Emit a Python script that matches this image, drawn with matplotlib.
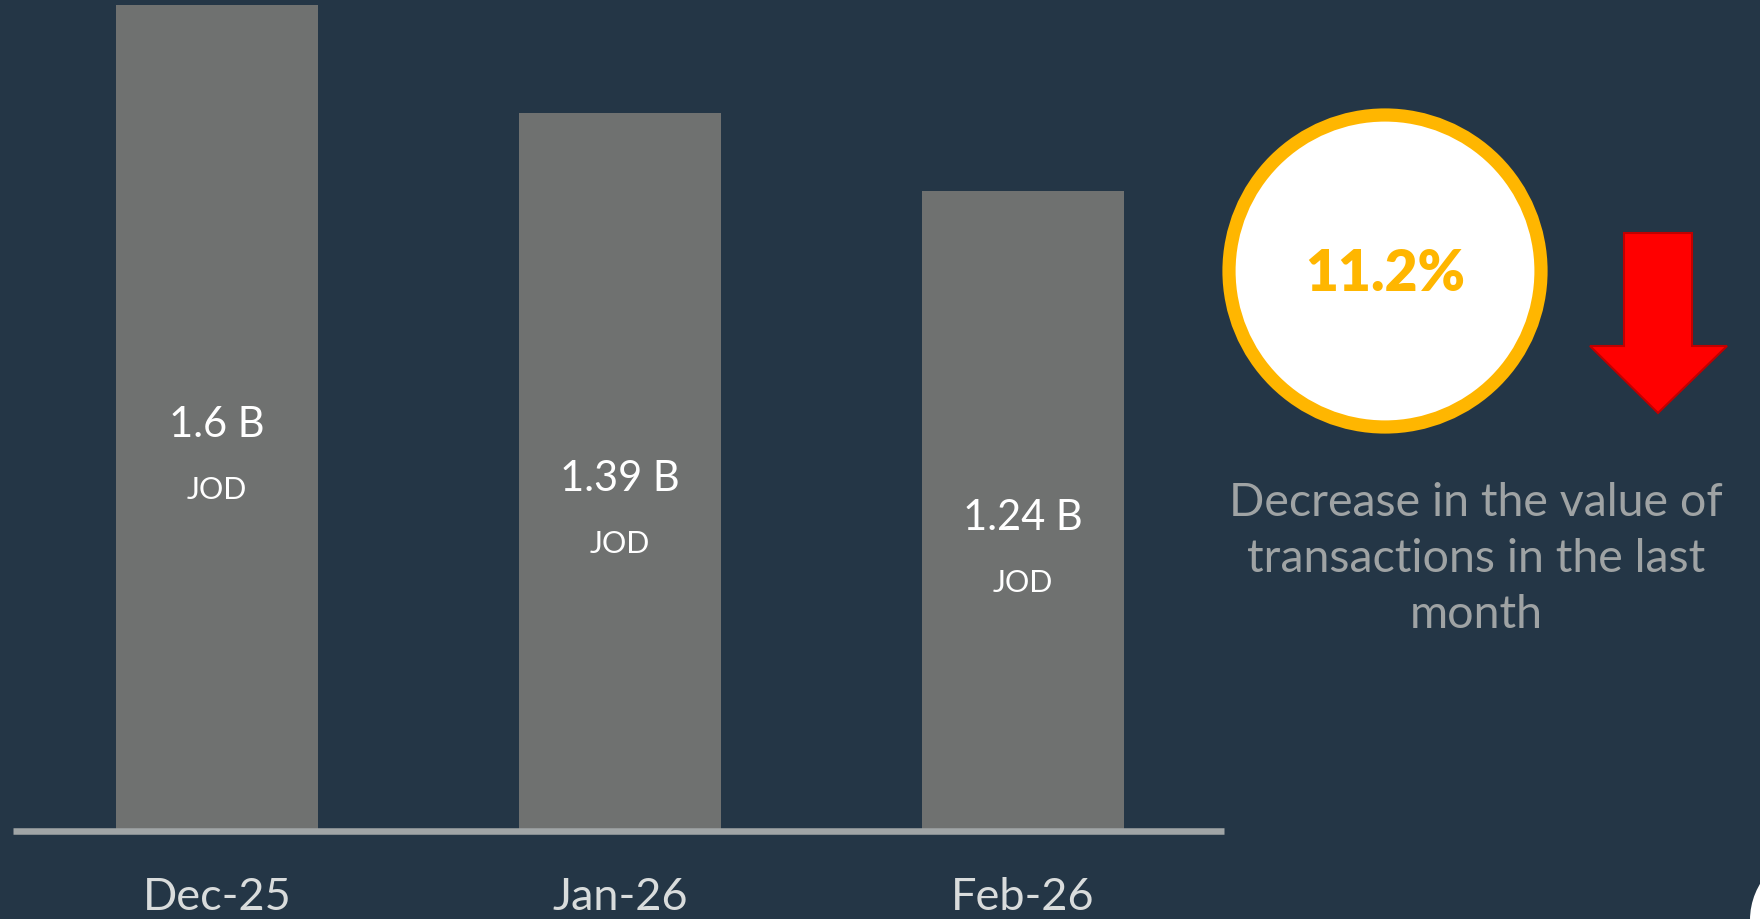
import matplotlib.pyplot as plt
from matplotlib.patches import Circle, Polygon

months = ['Dec-25', 'Jan-26', 'Feb-26']
values = [1.6, 1.39, 1.24]          # billions JOD
value_labels = ['1.6 B', '1.39 B', '1.24 B']
unit = 'JOD'
change_pct = 11.2
caption = 'Decrease in the value of\ntransactions in the last\nmonth'

bg = '#243646'
bar_col = '#6f7170'
plt.rcParams['font.family'] = ['Lato', 'DejaVu Sans']

W, H = 1760, 919
fig = plt.figure(figsize=(W / 100, H / 100), dpi=100, facecolor=bg)

# bar chart area, positioned in pixels
left, right, bottom = 13, 1224, 831
ax = fig.add_axes([left / W, (H - bottom) / H, (right - left) / W, bottom / H])
ax.set_facecolor(bg)
x = range(len(months))
ax.bar(x, values, width=0.5, color=bar_col, zorder=2)
ax.set_xlim(-0.506, 2.499)
ax.set_ylim(0, bottom / ((bottom - 5) / 1.6))

for s in ['top', 'left', 'right']:
    ax.spines[s].set_visible(False)
ax.spines['bottom'].set_color('#a0a5a6')
ax.spines['bottom'].set_linewidth(4.7)
ax.spines['bottom'].set_capstyle('butt')
ax.spines['bottom'].set_zorder(3)
ax.set_yticks([])
ax.set_xticks(list(x))
ax.set_xticklabels(months, fontsize=32.5, color='#d9dcdc')
ax.tick_params(axis='x', length=0, pad=33)

for i, v in enumerate(values):
    ax.annotate(value_labels[i], (i, v / 2), xytext=(0, -5), textcoords='offset points',
                ha='center', va='center', fontsize=30, color='white', zorder=4)
    ax.annotate(unit, (i, v / 2), xytext=(0, -52), textcoords='offset points',
                ha='center', va='center', fontsize=22, color='white', zorder=4)

# overlay in pixel coordinates for the badge, arrow and caption
ov = fig.add_axes([0, 0, 1, 1])
ov.set_xlim(0, W)
ov.set_ylim(H, 0)
ov.axis('off')
ov.patch.set_alpha(0)

ov.add_patch(Circle((1385, 271), 156, facecolor='white', edgecolor='#ffb600', linewidth=9.5))
ov.text(1385, 274, f'{change_pct}%', ha='center', va='center', fontsize=41,
        fontweight='heavy', color='#ffb600')

arrow = [(1624, 233), (1692, 233), (1692, 346), (1727, 346), (1658, 413),
         (1590, 346), (1624, 346)]
ov.add_patch(Polygon(arrow, closed=True, facecolor='#ff0000', edgecolor='#c00000', linewidth=1.5))

ov.text(1476, 559, caption, ha='center', va='center', fontsize=33.5,
        color='#9fa3a4', linespacing=1.42)

ov.add_patch(Circle((1820, 920), 70, facecolor='white', edgecolor='none'))

fig.savefig('out.png', dpi=100, facecolor=bg)
